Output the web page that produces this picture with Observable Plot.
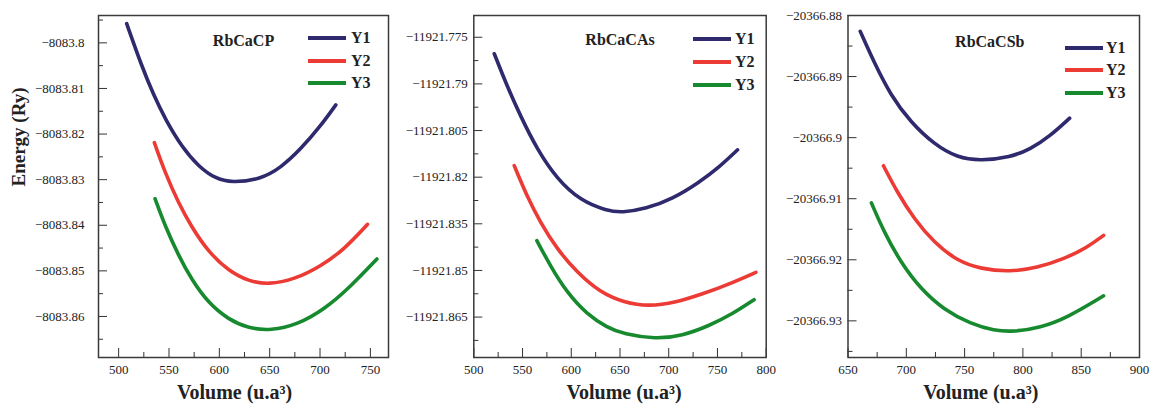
<!DOCTYPE html>
<html><head><meta charset="utf-8">
<script src="https://cdn.jsdelivr.net/npm/d3@7"></script>
<script src="https://cdn.jsdelivr.net/npm/@observablehq/plot@0.6"></script>
<style>
body{margin:0;background:#fff;}
#chart{position:relative;width:1150px;height:410px;overflow:hidden;background:#fff;font-family:"Liberation Serif","Times New Roman",Tinos,"DejaVu Serif",serif;}
.panel{position:absolute;top:0;}
.panel svg{overflow:visible;}
.panel svg text{font-family:"Liberation Serif","Times New Roman",Tinos,"DejaVu Serif",serif !important;}
.lg-line{position:absolute;height:4px;width:38px;}
.lg-text{position:absolute;font-weight:bold;font-size:16px;color:#222;line-height:16px;white-space:nowrap;}
</style></head><body><div id="chart"></div>
<script>
// ---------- data ----------
const seriesNames = ["Y1", "Y2", "Y3"];
const seriesColors = ["#2e2a6d", "#ec3a35", "#178a2f"];
const xTitle = "Volume (u.a³)";
const yTitle = "Energy (Ry)";
const panelTitles = ["RbCaCP", "RbCaCAs", "RbCaCSb"];

// RbCaCP
const p1Y1Vol = [508, 522.9, 534.5, 546.2, 562.7, 579.3, 595.9, 612.5, 641, 661, 680.9, 700.7, 715.7];
const p1Y1E = [-8083.7958, -8083.8051, -8083.8113, -8083.8167, -8083.8228, -8083.8271, -8083.82975, -8083.8307, -8083.8299, -8083.8274, -8083.8233, -8083.8182, -8083.8136];
const p1Y2Vol = [535.5, 546.2, 559.4, 572.7, 589.3, 609.2, 629.1, 649.3, 674.2, 700.7, 724, 747.2];
const p1Y2E = [-8083.8219, -8083.8285, -8083.8351, -8083.8405, -8083.8459, -8083.8500, -8083.8523, -8083.8530, -8083.8519, -8083.8490, -8083.8453, -8083.8398];
const p1Y3Vol = [536.2, 546.2, 559.4, 572.7, 589.3, 609.2, 629.1, 651, 677.5, 704, 730.6, 756.5];
const p1Y3E = [-8083.8342, -8083.8402, -8083.8466, -8083.8520, -8083.8571, -8083.8607, -8083.8626, -8083.8631, -8083.8618, -8083.8585, -8083.8534, -8083.8474];

// RbCaCAs
const p2Y1Vol = [521, 533.9, 547.7, 564.7, 585.3, 609.6, 636.6, 652, 676.4, 703.8, 731.1, 751.7, 770.6];
const p2Y1E = [-11921.7803, -11921.7905, -11921.8002, -11921.8109, -11921.8206, -11921.8276, -11921.8308, -11921.8314, -11921.8302, -11921.827, -11921.8217, -11921.8168, -11921.8112];
const p2Y2Vol = [541.5, 554.4, 568.2, 585.3, 605.8, 629.8, 653.8, 679.8, 707.2, 734.6, 761.9, 789.4];
const p2Y2E = [-11921.8163, -11921.826, -11921.8345, -11921.8431, -11921.8506, -11921.8571, -11921.8603, -11921.8616, -11921.8603, -11921.8576, -11921.8544, -11921.8506];
const p2Y3Vol = [564.7, 578.5, 595.5, 616.1, 636.6, 653.8, 686.6, 714, 741.4, 765.4, 787.6];
const p2Y3E = [-11921.8404, -11921.8485, -11921.8571, -11921.8641, -11921.8683, -11921.8705, -11921.8721, -11921.871, -11921.8678, -11921.864, -11921.8594];

// RbCaCSb
const p3Y1Vol = [660.5, 672.4, 686.7, 703.8, 723.9, 743.8, 763.8, 789.2, 806.4, 823.5, 840.1];
const p3Y1E = [-20366.8826, -20366.8877, -20366.8931, -20366.8975, -20366.9011, -20366.9033, -20366.9038, -20366.9032, -20366.9019, -20366.8997, -20366.8968];
const p3Y2Vol = [680.4, 692.4, 706.7, 723.9, 743.8, 763.8, 789.2, 812.1, 834.9, 855, 869.2];
const p3Y2E = [-20366.9046, -20366.909, -20366.9133, -20366.9172, -20366.9202, -20366.9215, -20366.922, -20366.9213, -20366.9199, -20366.918, -20366.916];
const p3Y3Vol = [670.1, 681, 695.2, 712.4, 732.4, 755.2, 775.3, 792.1, 815, 837.8, 869.2];
const p3Y3E = [-20366.9107, -20366.9155, -20366.9204, -20366.9248, -20366.9282, -20366.9305, -20366.9316, -20366.9318, -20366.9311, -20366.9295, -20366.9259];

// tick labels
const p1XLabels = ["500", "550", "600", "650", "700", "750"];
const p1XMinor = [525, 575, 625, 675, 725];
const p1YLabels = ["−8083.8", "−8083.81", "−8083.82", "−8083.83", "−8083.84", "−8083.85", "−8083.86"];
const p1YMinor = [-8083.795, -8083.805, -8083.815, -8083.825, -8083.835, -8083.845, -8083.855, -8083.865];
const p2XLabels = ["500", "550", "600", "650", "700", "750", "800"];
const p2XMinor = [525, 575, 625, 675, 725, 775];
const p2YLabels = ["−11921.775", "−11921.79", "−11921.805", "−11921.82", "−11921.835", "−11921.85", "−11921.865"];
const p2YMinor = [-11921.7825, -11921.7975, -11921.8125, -11921.8275, -11921.8425, -11921.8575, -11921.8725];
const p3XLabels = ["650", "700", "750", "800", "850", "900"];
const p3XMinor = [675, 725, 775, 825, 875];
const p3YLabels = ["−20366.88", "−20366.89", "−20366.9", "−20366.91", "−20366.92", "−20366.93"];
const p3YMinor = [-20366.885, -20366.895, -20366.905, -20366.915, -20366.925, -20366.935];

// ---------- layout ----------
const FONT = '"Liberation Serif","Times New Roman",Tinos,"DejaVu Serif",serif';
const panels = [
  {title: panelTitles[0], vol: [p1Y1Vol, p1Y2Vol, p1Y3Vol], E: [p1Y1E, p1Y2E, p1Y3E],
   xLabels: p1XLabels, xMinor: p1XMinor, yLabels: p1YLabels, yMinor: p1YMinor,
   xDomain: [480, 768], yDomain: [-8083.869, -8083.794],
   left: 0, width: 392, ml: 98, mr: 4, yPad: 14, titleDx: 0, titleDy: 19, xlDx: -9, showY: true,
   legend: {lineX: 308, textX: 351, ys: [38.3, 60.7, 83.3]}},
  {title: panelTitles[1], vol: [p2Y1Vol, p2Y2Vol, p2Y3Vol], E: [p2Y1E, p2Y2E, p2Y3E],
   xLabels: p2XLabels, xMinor: p2XMinor, yLabels: p2YLabels, yMinor: p2YMinor,
   xDomain: [500, 800], yDomain: [-11921.878, -11921.768],
   left: 392, width: 376, ml: 81.3, mr: 2.3, yPad: 6, titleDx: 0, titleDy: 18, xlDx: 4, showY: false,
   legend: {lineX: 692.5, textX: 735, ys: [39, 62.3, 85]}},
  {title: panelTitles[2], vol: [p3Y1Vol, p3Y2Vol, p3Y3Vol], E: [p3Y1E, p3Y2E, p3Y3E],
   xLabels: p3XLabels, xMinor: p3XMinor, yLabels: p3YLabels, yMinor: p3YMinor,
   xDomain: [650, 900], yDomain: [-20366.936, -20366.88],
   left: 768, width: 382, ml: 79.5, mr: 11, yPad: 6, titleDx: -4, titleDy: 20, xlDx: -13, showY: false,
   legend: {lineX: 1065, textX: 1106, ys: [47.5, 69.8, 92.5]}}
];

const chart = document.getElementById("chart");
const toNum = s => +s.replace("−", "-");

panels.forEach(cfg => {
  const rows = [];
  seriesNames.forEach((s, k) => cfg.vol[k].forEach((v, i) => rows.push({series: s, vol: v, E: cfg.E[k][i]})));
  const yMap = new Map(cfg.yLabels.map(l => [toNum(l), l]));
  const yMajor = cfg.yLabels.map(toNum);
  const xMajor = cfg.xLabels.map(toNum);
  const marks = [
    Plot.axisX({ticks: xMajor, tickSize: -9, fill: "none", stroke: "#333", label: null}),
    Plot.axisX({ticks: cfg.xMinor, tickSize: -5, fill: "none", stroke: "#333", label: null}),
    Plot.axisX({ticks: xMajor, tickSize: 0, tickPadding: 7, tickFormat: d => String(d), label: null}),
    Plot.axisY({ticks: yMajor, tickSize: -9, fill: "none", stroke: "#333", label: null}),
    Plot.axisY({ticks: cfg.yMinor, tickSize: -5, fill: "none", stroke: "#333", label: null}),
    Plot.axisY({ticks: yMajor, tickSize: 0, tickPadding: cfg.yPad, tickFormat: d => yMap.get(d), label: null}),
    Plot.line(rows, {x: "vol", y: "E", z: "series", stroke: "series", strokeWidth: 3.6, curve: "basis"}),
    Plot.frame({stroke: "#3a3a3a", strokeWidth: 1.5}),
    Plot.text([cfg.title], {text: d => d, frameAnchor: "top", dy: cfg.titleDy, dx: cfg.titleDx, fontWeight: "bold", fontSize: 16}),
    Plot.text([xTitle], {text: d => d, frameAnchor: "bottom", dy: 41, dx: cfg.xlDx, fontWeight: "bold", fontSize: 20})
  ];
  if (cfg.showY) {
    marks.push(Plot.text([yTitle], {text: d => d, frameAnchor: "left", dx: -80, rotate: -90, fontWeight: "bold", fontSize: 19}));
  }
  const svg = Plot.plot({
    width: cfg.width, height: 410,
    marginLeft: cfg.ml, marginRight: cfg.mr, marginTop: 15, marginBottom: 53,
    style: {fontFamily: FONT, fontSize: "13px", color: "#222", background: "transparent", overflow: "visible"},
    x: {domain: cfg.xDomain},
    y: {domain: cfg.yDomain},
    color: {domain: seriesNames, range: seriesColors},
    marks
  });
  svg.style.fontFamily = FONT;
  const div = document.createElement("div");
  div.className = "panel";
  div.style.left = cfg.left + "px";
  div.appendChild(svg);
  chart.appendChild(div);

  // legend
  seriesNames.forEach((s, k) => {
    const ln = document.createElement("div");
    ln.className = "lg-line";
    ln.style.left = cfg.legend.lineX + "px";
    ln.style.top = (cfg.legend.ys[k] - 2) + "px";
    ln.style.background = seriesColors[k];
    chart.appendChild(ln);
    const tx = document.createElement("div");
    tx.className = "lg-text";
    tx.style.left = cfg.legend.textX + "px";
    tx.style.top = (cfg.legend.ys[k] - 8) + "px";
    tx.textContent = s;
    chart.appendChild(tx);
  });
});
</script></body></html>
